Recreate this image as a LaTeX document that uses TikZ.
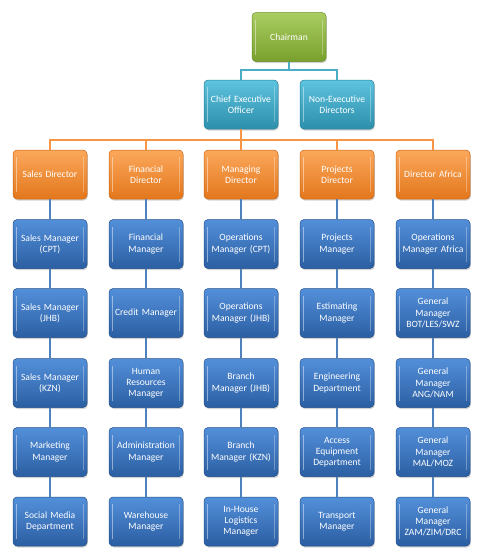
\documentclass[tikz,border=0pt]{standalone}
\usepackage{fontspec}
\setmainfont{Carlito}
\usetikzlibrary{shadows}
\definecolor{gA}{HTML}{AACD62}
\definecolor{gB}{HTML}{78A02C}
\definecolor{gE}{HTML}{6A8E26}
\definecolor{cA}{HTML}{5EC3DE}
\definecolor{cB}{HTML}{2C8FAC}
\definecolor{cE}{HTML}{267F99}
\definecolor{oA}{HTML}{FBA85C}
\definecolor{oB}{HTML}{E3771C}
\definecolor{oE}{HTML}{C96614}
\definecolor{bA}{HTML}{5390DA}
\definecolor{bB}{HTML}{2B5EA2}
\definecolor{bE}{HTML}{24508A}
\definecolor{lineC}{HTML}{4BACC6}
\definecolor{lineO}{HTML}{F79646}
\definecolor{lineB}{HTML}{4F81BD}
\begin{document}
\begin{tikzpicture}[x=1pt,y=-1pt,
  box/.style={rounded corners=4pt, minimum width=74pt, minimum height=49pt,
    text width=73pt, align=center, inner sep=0pt, text=white,
    font=\fontsize{9.6}{11.2}\selectfont,
    drop shadow={shadow xshift=0.8pt, shadow yshift=-1.5pt, opacity=0.35},
    path picture={
      \draw[white,opacity=0.45,line width=1.2pt]
        ([xshift=3.5pt,yshift=-7pt]path picture bounding box.north west) --
        ([xshift=3.5pt,yshift=7pt]path picture bounding box.south west);
      \draw[white,opacity=0.3,line width=1.2pt]
        ([xshift=-3.5pt,yshift=-7pt]path picture bounding box.north east) --
        ([xshift=-3.5pt,yshift=7pt]path picture bounding box.south east);
    }},
  gbox/.style={box, top color=gA, bottom color=gB, draw=gE, line width=0.5pt},
  cbox/.style={box, top color=cA, bottom color=cB, draw=cE, line width=0.5pt},
  obox/.style={box, top color=oA, bottom color=oB, draw=oE, line width=0.5pt},
  bbox/.style={box, top color=bA, bottom color=bB, draw=bE, line width=0.5pt},
  cline/.style={draw=lineC, line width=2pt},
  oline/.style={draw=lineO, line width=2pt},
  bline/.style={draw=lineB, line width=2pt}
]
\useasboundingbox (0,0) rectangle (482,560);

\coordinate (cbus) at (0,70);
\coordinate (obus) at (0,140);

\node[gbox] (chair) at (289,37) {Chairman};
\node[cbox] (ceo) at (241,104.5) {Chief Executive\\Officer};
\node[cbox] (ned) at (337,104.5) {Non-Executive\\Directors};

\node[obox] (d1) at (50,174.5) {Sales Director};
\node[obox] (d2) at (146,174.5) {Financial\\Director};
\node[obox] (d3) at (241,174.5) {Managing\\Director};
\node[obox] (d4) at (337,174.5) {Projects\\Director};
\node[obox] (d5) at (433,174.5) {Director Africa};

% column 1
\node[bbox] (a2) at (50,244) {Sales Manager\\(CPT)};
\node[bbox] (a3) at (50,313) {Sales Manager\\(JHB)};
\node[bbox] (a4) at (50,383) {Sales Manager\\(KZN)};
\node[bbox] (a5) at (50,452) {Marketing\\Manager};
\node[bbox] (a6) at (50,521.5) {Social Media\\Department};
% column 2
\node[bbox] (b2) at (146,244) {Financial\\Manager};
\node[bbox] (b3) at (146,313) {Credit Manager};
\node[bbox] (b4) at (146,383) {Human\\Resources\\Manager};
\node[bbox] (b5) at (146,452) {Administration\\Manager};
\node[bbox] (b6) at (146,521.5) {Warehouse\\Manager};
% column 3
\node[bbox] (c2) at (241,244) {Operations\\Manager (CPT)};
\node[bbox] (c3) at (241,313) {Operations\\Manager (JHB)};
\node[bbox] (c4) at (241,383) {Branch\\Manager (JHB)};
\node[bbox] (c5) at (241,452) {Branch\\Manager (KZN)};
\node[bbox] (c6) at (241,521.5) {In-House\\Logistics\\Manager};
% column 4
\node[bbox] (e2) at (337,244) {Projects\\Manager};
\node[bbox] (e3) at (337,313) {Estimating\\Manager};
\node[bbox] (e4) at (337,383) {Engineering\\Department};
\node[bbox] (e5) at (337,452) {Access\\Equipment\\Department};
\node[bbox] (e6) at (337,521.5) {Transport\\Manager};
% column 5
\node[bbox] (f2) at (433,244) {Operations\\Manager Africa};
\node[bbox] (f3) at (433,313) {General\\Manager\\BOT/LES/SWZ};
\node[bbox] (f4) at (433,383) {General\\Manager\\ANG/NAM};
\node[bbox] (f5) at (433,452) {General\\Manager\\MAL/MOZ};
\node[bbox] (f6) at (433,521.5) {General\\Manager\\ZAM/ZIM/DRC};

% connectors
\draw[cline] (chair.south) -- (chair.south |- cbus) -| (ceo.north);
\draw[cline] (chair.south) -- (chair.south |- cbus) -| (ned.north);
\foreach \d in {d1,d2,d3,d4,d5}{
  \draw[oline] (ceo.south) -- (ceo.south |- obus) -| (\d.north);
}
\foreach \c in {a,b,c,e,f}{
  \draw[bline] (\c2.south) -- (\c3.north);
  \draw[bline] (\c3.south) -- (\c4.north);
  \draw[bline] (\c4.south) -- (\c5.north);
  \draw[bline] (\c5.south) -- (\c6.north);
}
\draw[bline] (d1.south) -- (a2.north);
\draw[bline] (d2.south) -- (b2.north);
\draw[bline] (d3.south) -- (c2.north);
\draw[bline] (d4.south) -- (e2.north);
\draw[bline] (d5.south) -- (f2.north);
\end{tikzpicture}
\end{document}
